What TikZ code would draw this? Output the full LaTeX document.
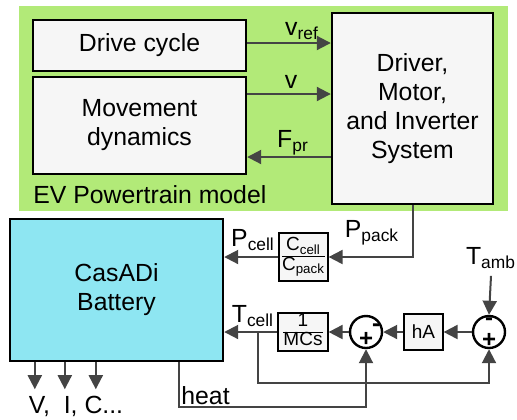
\documentclass[tikz,border=0pt]{standalone}
\usepackage{fontspec}
\setmainfont{Liberation Sans}
\usetikzlibrary{positioning}
\usetikzlibrary{arrows.meta}
\definecolor{evgreen}{RGB}{178,234,120}
\definecolor{battcyan}{RGB}{142,230,242}
\definecolor{boxgray}{RGB}{246,246,246}
\definecolor{wiregray}{RGB}{68,68,68}
\begin{document}
\begin{tikzpicture}[
        x=0.5pt, y=-0.5pt,
        >={Triangle[length=7pt,width=7pt]},
        every node/.style={font=\fontsize{12.4}{14.5}\selectfont},
        blockbox/.style={draw=black, line width=1.2pt, fill=boxgray, align=center, inner sep=0pt},
        smallbox/.style={draw=black, line width=0.6pt, fill=boxgray, align=center, inner sep=0pt},
        sumnode/.style={circle, draw=black, line width=1.2pt, fill=white, minimum size=16pt, inner sep=0pt},
        signnode/.style={font=\fontsize{12}{12}\selectfont\bfseries, inner sep=0pt},
        smallfont/.style={font=\fontsize{9.5}{10}\selectfont},
        wire/.style={draw=wiregray, line width=1pt}
    ]

        \useasboundingbox (0,0) rectangle (517,419);
        \fill[evgreen] (19,6) rectangle (508,211);

        % powertrain blocks
        \node [blockbox, minimum width=106.5pt, minimum height=25.5pt] (DriveCycle) at (139.5,45.5) {Drive cycle};
        \node [blockbox, minimum width=106.5pt, minimum height=48.5pt] (Movement) at (139.5,125.5) {Movement\\dynamics};
        \node [blockbox, minimum width=80.5pt, minimum height=95.5pt] (Driver) at (412.5,108.5) {Driver,\\Motor,\\and Inverter\\System};
        \node [anchor=base west, inner sep=0pt] (EVLabel) at (33,203) {EV Powertrain model};

        % battery and thermal loop
        \node [draw=black, line width=1.2pt, fill=battcyan, minimum width=106.5pt, minimum height=71pt, align=center] (Battery) at (116.5,290) {CasADi\\Battery};
        \node [smallbox, smallfont, minimum width=24.5pt, minimum height=24pt] (CapRatio) at (303.5,257)
            {\renewcommand\arraystretch{0.85}\begin{tabular}{@{}c@{}}C\textsubscript{cell}\\\hline C\textsubscript{pack}\end{tabular}};
        \node [smallbox, smallfont, minimum width=25pt, minimum height=19pt] (InvMC) at (303,332)
            {\renewcommand\arraystretch{0.85}\begin{tabular}{@{}c@{}}1\\\hline MCs\end{tabular}};
        \node [smallbox, smallfont, minimum width=19.5pt, minimum height=18pt] (HeatCoef) at (423.5,332) {hA};
        \node [sumnode] (Sum1) at (366,332) {};
        \node [sumnode] (Sum2) at (489,332) {};
        \node [signnode] (Sum1Plus) at ([yshift=-3.5pt]Sum1.center) {+};
        \node [signnode] (Sum1Minus) at ([xshift=5pt,yshift=2pt]Sum1.center) {-};
        \node [signnode] (Sum2Minus) at ([yshift=5pt]Sum2.center) {-};
        \node [signnode] (Sum2Plus) at ([yshift=-4pt]Sum2.center) {+};
        \node (TambLabel) at (491,258) {T\textsubscript{amb}};

        % signal labels
        \node (VrefLabel) at (302,31) {v\textsubscript{ref}};
        \node (VLabel) at (291,82) {v};
        \node (FprLabel) at (293,143) {F\textsubscript{pr}};
        \node (PpackLabel) at (372,233) {P\textsubscript{pack}};
        \node (PcellLabel) at (253,240) {P\textsubscript{cell}};
        \node (TcellLabel) at (253,316) {T\textsubscript{cell}};
        \node [anchor=base west, inner sep=0pt] (HeatLabel) at (181,404) {heat};
        \node (OutLabel) at (76,406) {V,\ \ I, C...};

        \coordinate (VrefIn) at ([yshift=1.25pt]DriveCycle.east);
        \coordinate (VIn) at ([yshift=15.75pt]Movement.east);
        \coordinate (FprIn) at ([yshift=-15.75pt]Movement.east);
        \coordinate (HeatOut) at ([xshift=-22.5pt]Battery.south east);
        \coordinate (HeatCorner) at (366,407);
        \coordinate (TapPoint) at (258,332);
        \coordinate (FbCorner) at (400,383);

        \draw[wire,->] (VrefIn) -- (VrefIn -| Driver.west);
        \draw[wire,->] (VIn) -- (VIn -| Driver.west);
        \draw[wire,<-] (FprIn) -- (FprIn -| Driver.west);
        \draw[wire,->] (Driver.south) |- (CapRatio.east);
        \draw[wire,->] (CapRatio.west) -- (CapRatio.west -| Battery.east);
        \draw[wire,->] (TambLabel.south) -- (Sum2.north);
        \draw[wire,->] (Sum2.west) -- (HeatCoef.east);
        \draw[wire,->] (HeatCoef.west) -- (Sum1.east);
        \draw[wire,->] (Sum1.west) -- (InvMC.east);
        \draw[wire,->] (InvMC.west) -- (InvMC.west -| Battery.east);
        \draw[wire,->] (HeatOut) |- (HeatCorner) -| (Sum1.south);
        \draw[wire,->] (TapPoint) |- (FbCorner) -| (Sum2.south);
        \foreach \dx in {13,28,43.5}
            \draw[wire,->] ([xshift=\dx pt]Battery.south west) -- ++(0,27);

    \end{tikzpicture}
\end{document}
